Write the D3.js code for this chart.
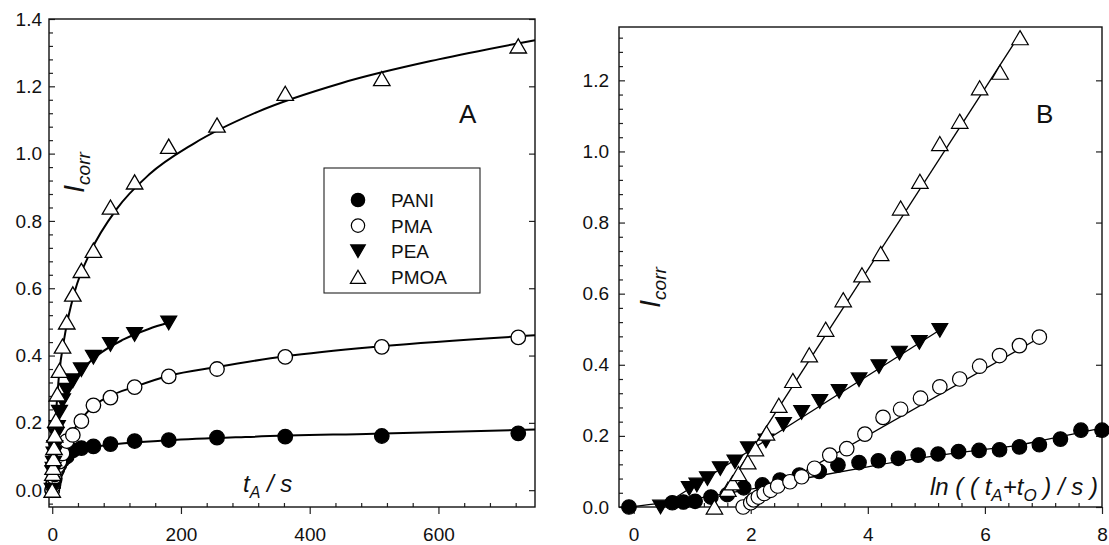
<!DOCTYPE html>
<html>
<head>
<meta charset="utf-8">
<script src="https://cdn.jsdelivr.net/npm/d3@7"></script>
<style>
body { margin: 0; background: #ffffff; }
svg text { font-family: "Liberation Sans", Arial, sans-serif; }
</style>
</head>
<body>
<svg id="chart" width="1109" height="545"></svg>
<script>
//Sampling times t_A (s), shared by all series
var timeS = [0, 1, 1.41, 2, 2.83, 4, 5.66, 8, 11.3, 16, 22.6, 32, 45.3, 64, 90.5, 128, 181, 256, 362, 512, 724, 1024, 1448, 2048, 2896];

//I_corr values
var iPANI = [0, 0.012, 0.014, 0.016, 0.028, 0.035, 0.054, 0.062, 0.076, 0.09, 0.1, 0.118, 0.125, 0.13, 0.137, 0.146, 0.149, 0.156, 0.159, 0.161, 0.169, 0.175, 0.191, 0.216, 0.216];
var iPMA = [0, 0.012, 0.02, 0.028, 0.038, 0.047, 0.059, 0.071, 0.085, 0.109, 0.146, 0.164, 0.205, 0.252, 0.275, 0.306, 0.338, 0.36, 0.396, 0.426, 0.454, 0.478];
var iPEA = [0, 0.052, 0.062, 0.08, 0.108, 0.127, 0.164, 0.186, 0.232, 0.266, 0.297, 0.325, 0.358, 0.395, 0.433, 0.463, 0.497];
var iPMOA = [0, 0.05, 0.068, 0.094, 0.127, 0.164, 0.208, 0.286, 0.356, 0.428, 0.5, 0.583, 0.653, 0.713, 0.841, 0.916, 1.022, 1.085, 1.179, 1.223, 1.32];

//ln((t_A+t_0)/s) values for panel B
var lnPANI = [-0.08, 0.66, 0.85, 1.05, 1.32, 1.6, 1.88, 2.2, 2.5, 2.83, 3.17, 3.49, 3.85, 4.18, 4.52, 4.86, 5.2, 5.55, 5.9, 6.25, 6.59, 6.93, 7.29, 7.64, 8.0];
var lnPMA = [1.87, 2.0, 2.05, 2.13, 2.23, 2.34, 2.46, 2.67, 2.87, 3.09, 3.35, 3.64, 3.95, 4.26, 4.56, 4.9, 5.23, 5.57, 5.91, 6.25, 6.59, 6.93];
var lnPEA = [0.46, 0.95, 1.08, 1.26, 1.48, 1.73, 1.96, 2.26, 2.56, 2.87, 3.18, 3.51, 3.85, 4.19, 4.54, 4.88, 5.23];
var lnPMOA = [1.38, 1.61, 1.69, 1.79, 1.95, 2.08, 2.27, 2.48, 2.72, 3.0, 3.28, 3.58, 3.9, 4.22, 4.56, 4.89, 5.23, 5.57, 5.91, 6.26, 6.6];

//Fitted curves, panel A
var fitA_PANI_t = [0, 3, 8, 15, 25, 40, 60, 100, 180, 300, 500, 750];
var fitA_PANI_i = [0, 0.015, 0.045, 0.075, 0.1, 0.117, 0.127, 0.137, 0.148, 0.158, 0.168, 0.18];
var fitA_PMA_t = [0, 2, 4, 8, 11, 16, 22, 32, 45, 64, 90, 128, 181, 256, 362, 512, 750];
var fitA_PMA_i = [0, 0.025, 0.045, 0.07, 0.088, 0.112, 0.14, 0.175, 0.21, 0.25, 0.28, 0.307, 0.34, 0.366, 0.398, 0.428, 0.46];
var fitA_PEA_t = [0, 2, 5, 10, 20, 40, 70, 110, 150, 181];
var fitA_PEA_i = [0, 0.086, 0.15, 0.209, 0.274, 0.343, 0.4, 0.447, 0.479, 0.498];
var fitA_PMOA_t = [0, 2, 5, 10, 20, 35, 60, 100, 150, 220, 320, 450, 600, 750];
var fitA_PMOA_i = [0, 0.1, 0.2, 0.33, 0.465, 0.59, 0.71, 0.835, 0.937, 1.03, 1.125, 1.21, 1.28, 1.337];

//Fitted lines, panel B
var fitB_PANI_x = [-0.08, 1, 2, 3, 4, 5, 6, 6.5, 7, 7.5, 8];
var fitB_PANI_i = [0, 0.022, 0.05, 0.083, 0.113, 0.14, 0.162, 0.172, 0.188, 0.205, 0.222];
var fitB_PMA_x = [1.85, 7.05];
var fitB_PMA_i = [0, 0.487];
var fitB_PEA_x = [0.46, 5.25];
var fitB_PEA_i = [0, 0.5];
var fitB_PMOA_x = [1.5, 6.62];
var fitB_PMOA_i = [0.03, 1.335];

//Tick labels
var ticksAx = [0, 200, 400, 600];
var ticksAy = [0, 0.2, 0.4, 0.6, 0.8, 1.0, 1.2, 1.4];
var ticksBx = [0, 2, 4, 6, 8];
var ticksBy = [0, 0.2, 0.4, 0.6, 0.8, 1.0, 1.2];

//Marker shapes
var triUp = {
    draw: function(ctx, size){
        var s = Math.sqrt(size), h = s * 0.86;
        ctx.moveTo(0, -h / 2);
        ctx.lineTo(s / 2, h / 2);
        ctx.lineTo(-s / 2, h / 2);
        ctx.closePath();
    }
};
var triDown = {
    draw: function(ctx, size){
        var s = Math.sqrt(size), h = s * 0.86;
        ctx.moveTo(0, h / 2);
        ctx.lineTo(s / 2, -h / 2);
        ctx.lineTo(-s / 2, -h / 2);
        ctx.closePath();
    }
};

function zipPoints(iv, lv){
    return iv.map(function(v, k){ return { t: timeS[k], ln: lv[k], i: v }; });
}
function zipFit(xs, ys){
    return xs.map(function(v, k){ return { x: v, i: ys[k] }; });
}

var series = [
    { name: "PANI", pts: zipPoints(iPANI, lnPANI), fitA: zipFit(fitA_PANI_t, fitA_PANI_i), fitB: zipFit(fitB_PANI_x, fitB_PANI_i), type: d3.symbolCircle, size: 165, fill: "#000" },
    { name: "PMA", pts: zipPoints(iPMA, lnPMA), fitA: zipFit(fitA_PMA_t, fitA_PMA_i), fitB: zipFit(fitB_PMA_x, fitB_PMA_i), type: d3.symbolCircle, size: 165, fill: "#fff" },
    { name: "PEA", pts: zipPoints(iPEA, lnPEA), fitA: zipFit(fitA_PEA_t, fitA_PEA_i), fitB: zipFit(fitB_PEA_x, fitB_PEA_i), type: triDown, size: 250, fill: "#000" },
    { name: "PMOA", pts: zipPoints(iPMOA, lnPMOA), fitA: zipFit(fitA_PMOA_t, fitA_PMOA_i), fitB: zipFit(fitB_PMOA_x, fitB_PMOA_i), type: triUp, size: 272, fill: "#fff" }
];

var svg = d3.select("#chart");
svg.append("rect").attr("width", 1109).attr("height", 545).attr("fill", "#fff");

//Scales
var xA = d3.scaleLinear().domain([-5, 750]).range([49, 535]);
var yA = d3.scaleLinear().domain([-0.05, 1.4]).range([507, 19]);
var xB = d3.scaleLinear().domain([-0.25, 8]).range([619, 1102]);
var yB = d3.scaleLinear().domain([0, 1.35]).range([507, 27]);

function minorTicks(lo, hi, step, majors){
    return d3.range(Math.ceil(lo / step) * step, hi + 1e-9, step).filter(function(v){
        return !majors.some(function(m){ return Math.abs(m - v) < 1e-6; });
    });
}

//Axes and frame
function drawAxes(x, y, xMajor, yMajor, xStep, yStep, xFmt, yFmt, yPad){
    var g = svg.append("g");
    var x0 = x.range()[0], x1 = x.range()[1], y0 = y.range()[0], y1 = y.range()[1];
    var xd = x.domain(), yd = y.domain();

    g.append("g").attr("transform", "translate(0," + y0 + ")")
     .call(d3.axisBottom(x).tickValues(minorTicks(Math.max(xd[0], 0), xd[1], xStep, xMajor)).tickSize(-4).tickFormat(""));
    g.append("g").attr("transform", "translate(0," + y0 + ")")
     .call(d3.axisBottom(x).tickValues(xMajor).tickSize(7).tickPadding(14).tickFormat(xFmt));

    g.append("g").attr("transform", "translate(" + x0 + ",0)")
     .call(d3.axisLeft(y).tickValues(minorTicks(yd[0], yd[1], yStep, yMajor)).tickSize(-4).tickFormat(""));
    g.append("g").attr("transform", "translate(" + x0 + ",0)")
     .call(d3.axisLeft(y).tickValues(yMajor).tickSize(-6).tickPadding(yPad).tickFormat(yFmt));

    g.append("g").attr("transform", "translate(" + x1 + ",0)")
     .call(d3.axisRight(y).tickValues(yMajor).tickSize(-6).tickFormat(""));

    g.selectAll(".domain").remove();
    g.selectAll(".tick line").attr("stroke", "#222").attr("stroke-width", 1.2);
    g.selectAll(".tick text").style("font-size", "19px").attr("fill", "#111");

    g.append("rect")
     .attr("x", x0).attr("y", y1)
     .attr("width", x1 - x0).attr("height", y0 - y1)
     .attr("fill", "none").attr("stroke", "#111").attr("stroke-width", 1.4);
}

drawAxes(xA, yA, ticksAx, ticksAy, 40, 0.04, d3.format("d"), d3.format(".1f"), 7);
drawAxes(xB, yB, ticksBx, ticksBy, 0.4, 0.04, d3.format("d"), d3.format(".1f"), 10);

//Fit curves
var lineA = d3.line().x(function(d){ return xA(d.x); }).y(function(d){ return yA(d.i); }).curve(d3.curveMonotoneX);
var lineB = d3.line().x(function(d){ return xB(d.x); }).y(function(d){ return yB(d.i); }).curve(d3.curveMonotoneX);

series.forEach(function(s){
    svg.append("path").attr("d", lineA(s.fitA)).attr("fill", "none").attr("stroke", "#000").attr("stroke-width", 2);
    svg.append("path").attr("d", lineB(s.fitB)).attr("fill", "none").attr("stroke", "#000").attr("stroke-width", 1.3);
});

//Markers
series.forEach(function(s){
    var sym = d3.symbol().type(s.type).size(s.size);
    svg.append("g")
       .selectAll("path")
       .data(s.pts.filter(function(d){ return d.t <= xA.domain()[1]; }))
       .enter()
       .append("path")
       .attr("d", sym)
       .attr("transform", function(d){ return "translate(" + xA(d.t) + "," + yA(d.i) + ")"; })
       .attr("fill", s.fill).attr("stroke", "#000").attr("stroke-width", 1.3);

    svg.append("g")
       .selectAll("path")
       .data(s.pts)
       .enter()
       .append("path")
       .attr("d", sym)
       .attr("transform", function(d){ return "translate(" + xB(d.ln) + "," + yB(d.i) + ")"; })
       .attr("fill", s.fill).attr("stroke", "#000").attr("stroke-width", 1.2);
});

//Legend
var legend = svg.append("g");
legend.append("rect")
      .attr("x", 324).attr("y", 168).attr("width", 156).attr("height", 125)
      .attr("fill", "#fff").attr("stroke", "#222").attr("stroke-width", 1.1);
series.forEach(function(s, k){
    var ly = 200 + k * 25.6;
    legend.append("path")
          .attr("d", d3.symbol().type(s.type).size(s.size * 0.85)())
          .attr("transform", "translate(358," + ly + ")")
          .attr("fill", s.fill).attr("stroke", "#000").attr("stroke-width", 1.2);
    legend.append("text")
          .attr("x", 391).attr("y", ly + 7)
          .style("font-size", "19px").attr("fill", "#111")
          .text(s.name);
});

//Panel letters
svg.append("text").attr("x", 459).attr("y", 123).style("font-size", "26px").attr("fill", "#111").text("A");
svg.append("text").attr("x", 1036).attr("y", 123).style("font-size", "26px").attr("fill", "#111").text("B");

//Y titles (inside panels)
function yTitle(px, py){
    var t = svg.append("text")
               .attr("transform", "translate(" + px + "," + py + ") rotate(-90)")
               .style("font-style", "italic").attr("fill", "#111");
    t.append("tspan").style("font-size", "29px").text("I");
    t.append("tspan").attr("dy", 6).style("font-size", "19px").text("corr");
}
yTitle(84, 193);
yTitle(660, 308);

//X titles
var tx = svg.append("text").attr("x", 243).attr("y", 492).style("font-style", "italic").style("font-size", "24px").attr("fill", "#111");
tx.append("tspan").text("t");
tx.append("tspan").attr("dy", 6).style("font-size", "16px").text("A");
tx.append("tspan").attr("dy", -6).text(" / s");

var tb = svg.append("text").attr("x", 930).attr("y", 495).style("font-style", "italic").style("font-size", "24px").attr("fill", "#111");
tb.append("tspan").text("ln ( ( t");
tb.append("tspan").attr("dy", 6).style("font-size", "17px").text("A");
tb.append("tspan").attr("dy", -6).text("+t");
tb.append("tspan").attr("dy", 6).style("font-size", "17px").text("O");
tb.append("tspan").attr("dy", -6).text(" ) / s )");
</script>
</body>
</html>
